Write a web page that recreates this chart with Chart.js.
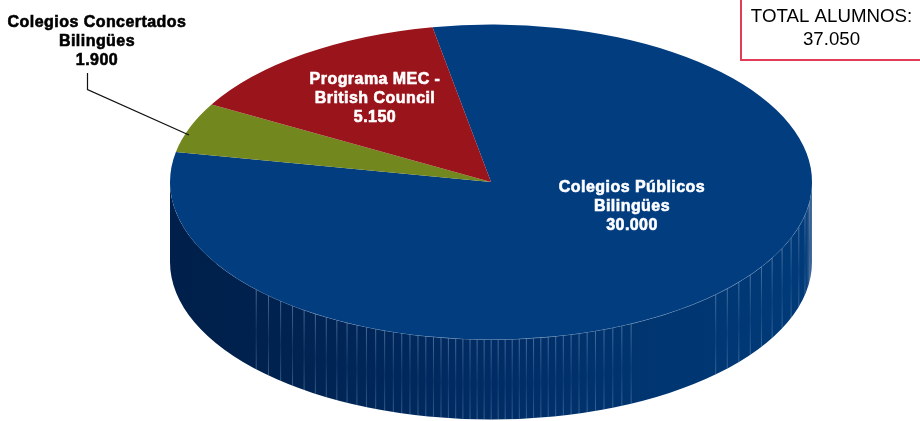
<!DOCTYPE html>
<html>
<head>
<meta charset="utf-8">
<style>
  html, body { margin: 0; padding: 0; background: #fff; }
  #pie { display: block; }
</style>
</head>
<body>
<canvas id="pie" width="920" height="421"></canvas>
<script src="https://cdn.jsdelivr.net/npm/chart.js@4"></script>
<script>
const categories = ["Colegios Públicos Bilingües", "Colegios Concertados Bilingües", "Programa MEC - British Council"]
const alumnos = [30000, 1900, 5150]
const sliceColors = ["#023d80", "#73871f", "#9a141c"]
const labelLines = [["Colegios Públicos", "Bilingües"], ["Colegios Concertados", "Bilingües"], ["Programa MEC -", "British Council"]]
const totalLabel = "TOTAL ALUMNOS:"

// ellipse size on screen, the pie itself stays round inside chart.js
const RX = 321
const RY = 157.5
const DEPTH = 80

function puntos(n) {
    return String(n).replace(/\B(?=(\d{3})+$)/g, ".")
}

const total = alumnos.reduce((a, b) => a + b, 0)

function drawWall(ctx, cx, cy) {
    ctx.save()
    ctx.beginPath()
    ctx.ellipse(cx, cy + DEPTH, RX, RY, 0, 0, Math.PI)
    ctx.ellipse(cx, cy, RX, RY, 0, Math.PI, 0, true)
    ctx.closePath()
    const grad = ctx.createLinearGradient(cx - RX, 0, cx + RX, 0)
    grad.addColorStop(0, "#00204b")
    grad.addColorStop(0.13, "#00214d")
    grad.addColorStop(0.5, "#002c65")
    grad.addColorStop(0.73, "#003570")
    grad.addColorStop(0.99, "#003a78")
    grad.addColorStop(1, "#4a6f9c")
    ctx.fillStyle = grad
    ctx.fill()
    ctx.clip()

    // thin facet lines on the side
    let t = 137
    while (t > 6) {
        const r = t * Math.PI / 180
        const x = cx + RX * Math.cos(r)
        const y = cy + RY * Math.sin(r)
        if (x < cx + 145 || x > cx + 215) {
            const g = ctx.createLinearGradient(0, y, 0, y + DEPTH)
            g.addColorStop(0, "rgba(140,170,205,0.65)")
            g.addColorStop(0.55, "rgba(140,170,205,0.15)")
            g.addColorStop(1, "rgba(140,170,205,0.5)")
            ctx.strokeStyle = g
            ctx.lineWidth = 0.8
            ctx.beginPath()
            ctx.moveTo(x, y)
            ctx.lineTo(x, y + DEPTH)
            ctx.stroke()
        }
        t -= 1.25 + 3.5 * Math.cos(r) * Math.cos(r)
    }
    ctx.restore()

    // light rim under the top face
    ctx.strokeStyle = "rgba(150,180,210,0.7)"
    ctx.lineWidth = 1
    ctx.beginPath()
    ctx.ellipse(cx, cy, RX, RY, 0, 0.12, 2.6)
    ctx.stroke()
}

function drawLabel(ctx, lines, x, y, color) {
    ctx.font = "bold 16px 'Liberation Sans'"
    ctx.letterSpacing = "0.45px"
    ctx.textAlign = "center"
    ctx.textBaseline = "middle"
    ctx.fillStyle = color
    ctx.strokeStyle = color
    ctx.lineWidth = 0.6
    lines.forEach((line, i) => {
        ctx.fillText(line, x, y + i * 19)
        ctx.strokeText(line, x, y + i * 19)
    })
    ctx.letterSpacing = "0px"
}

const pie3d = {
    id: "pie3d",
    beforeDatasetsDraw(chart) {
        const ctx = chart.ctx
        const arc = chart.getDatasetMeta(0).data[0]
        drawWall(ctx, arc.x, arc.y)
        ctx.save()
        ctx.translate(arc.x, arc.y)
        ctx.scale(RX / arc.outerRadius, RY / arc.outerRadius)
        ctx.translate(-arc.x, -arc.y)
    },
    afterDatasetsDraw(chart) {
        const ctx = chart.ctx
        ctx.restore()

        drawLabel(ctx, [...labelLines[0], puntos(alumnos[0])], 632, 188, "#fff")
        drawLabel(ctx, [...labelLines[2], puntos(alumnos[2])], 375, 80, "#fff")
        drawLabel(ctx, [...labelLines[1], puntos(alumnos[1])], 97, 23, "#000")

        // leader line of the small slice
        ctx.strokeStyle = "#111"
        ctx.lineWidth = 1.2
        ctx.beginPath()
        ctx.moveTo(87.5, 73)
        ctx.lineTo(87.5, 89.5)
        ctx.lineTo(189, 135)
        ctx.stroke()

        // total box
        ctx.strokeStyle = "#e23c59"
        ctx.lineWidth = 2
        ctx.strokeRect(741, -2, 185, 62)
        ctx.font = "18.7px 'Liberation Sans'"
        ctx.textAlign = "center"
        ctx.textBaseline = "middle"
        ctx.fillStyle = "#000"
        ctx.fillText(totalLabel, 831.5, 17)
        ctx.fillText(puntos(total), 831.5, 40)
    }
}

new Chart(document.getElementById("pie"), {
    type: "pie",
    data: {
        labels: categories,
        datasets: [{
            data: alumnos,
            backgroundColor: sliceColors,
            borderWidth: 0,
            clip: false
        }]
    },
    options: {
        responsive: false,
        animation: false,
        rotation: -10.5,
        layout: { padding: { left: 62, bottom: 57 } },
        plugins: {
            legend: { display: false },
            tooltip: { enabled: false }
        }
    },
    plugins: [pie3d]
})
</script>
</body>
</html>
